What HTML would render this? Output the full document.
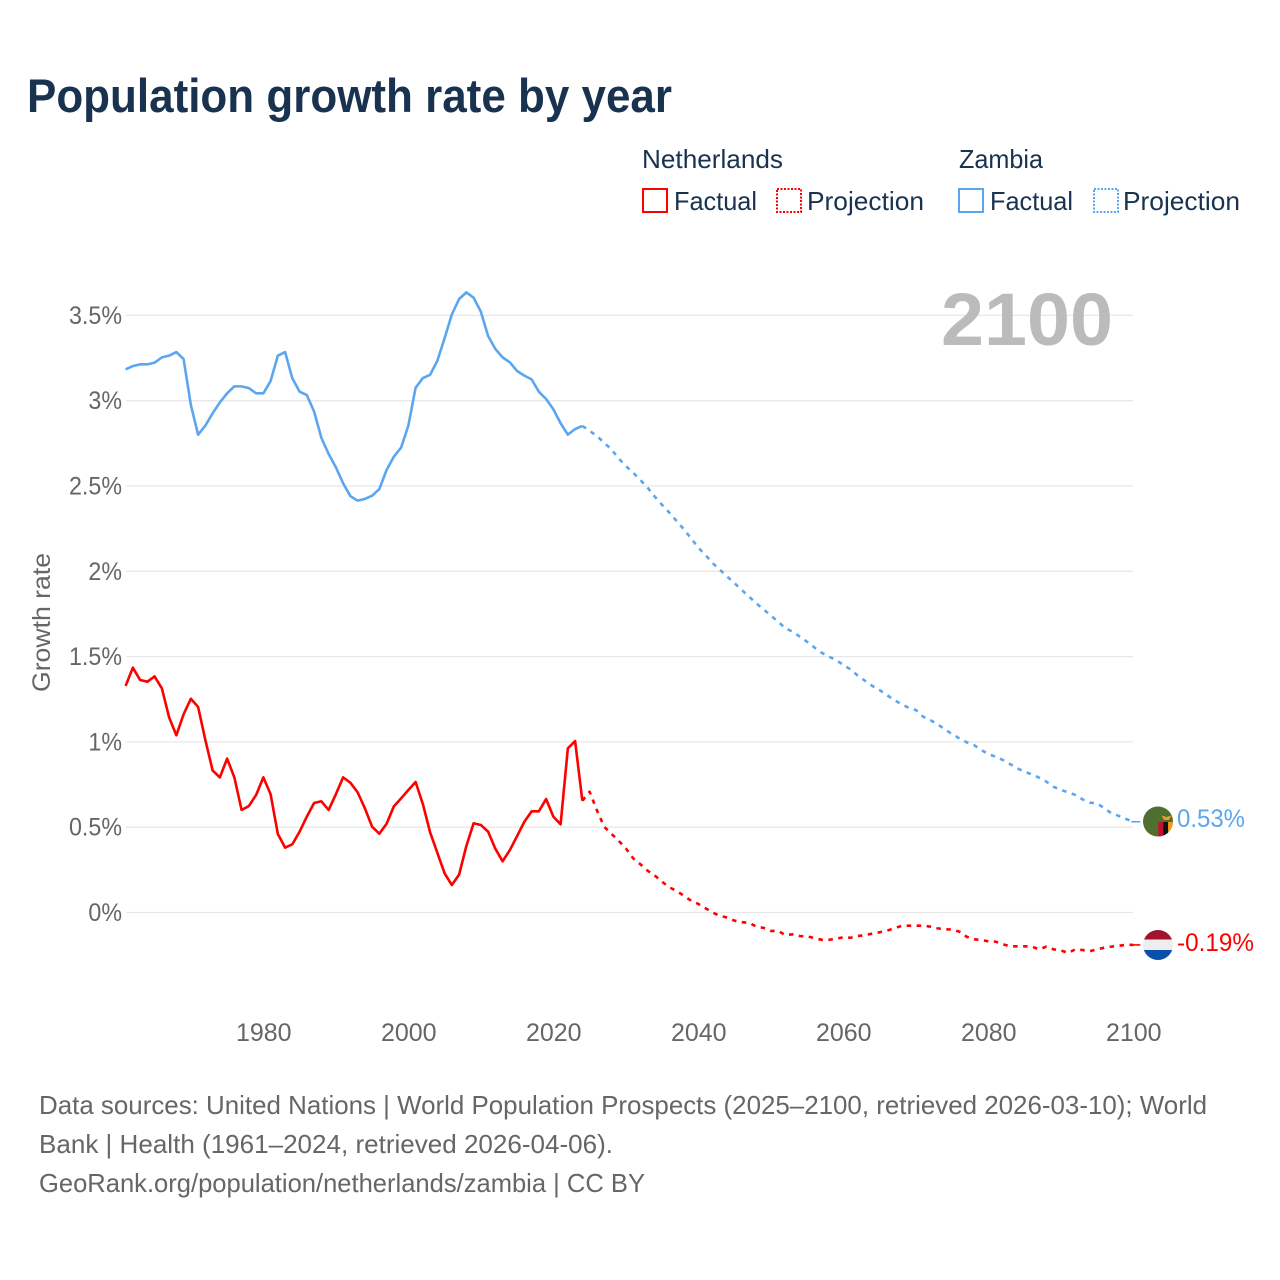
<!DOCTYPE html>
<html lang="en">
<head>
<meta charset="utf-8">
<title>Population growth rate by year</title>
<style>
html,body{margin:0;padding:0;background:#fff;}
svg{display:block;font-family:"Liberation Sans",sans-serif;}
</style>
</head>
<body>
<svg id="chart" width="1280" height="1280" viewBox="0 0 1280 1280" xmlns="http://www.w3.org/2000/svg">
  <rect width="1280" height="1280" fill="#ffffff"/>
  <text x="27" y="112" font-size="47" font-weight="700" fill="#18324f" textLength="645" lengthAdjust="spacingAndGlyphs">Population growth rate by year</text>

  <g font-size="26" fill="#18324f">
    <text x="642" y="168" textLength="141" lengthAdjust="spacingAndGlyphs">Netherlands</text>
    <text x="959" y="168" textLength="84" lengthAdjust="spacingAndGlyphs">Zambia</text>
    <rect x="643" y="189" width="24" height="23" fill="none" stroke="#ff0000" stroke-width="2"/>
    <text x="674" y="210" textLength="83" lengthAdjust="spacingAndGlyphs">Factual</text>
    <rect x="777" y="189" width="24" height="23" fill="none" stroke="#ff0000" stroke-width="2" stroke-dasharray="2 1.5"/>
    <text x="807" y="210" textLength="117" lengthAdjust="spacingAndGlyphs">Projection</text>
    <rect x="959" y="189" width="24" height="23" fill="none" stroke="#5ba6ee" stroke-width="2"/>
    <text x="990" y="210" textLength="83" lengthAdjust="spacingAndGlyphs">Factual</text>
    <rect x="1094" y="189" width="24" height="23" fill="none" stroke="#5ba6ee" stroke-width="2" stroke-dasharray="2 1.5"/>
    <text x="1123" y="210" textLength="117" lengthAdjust="spacingAndGlyphs">Projection</text>
  </g>

  <g id="grid"></g>
  <g id="yticks" font-size="25" fill="#666666" text-anchor="end"></g>
  <g id="xticks" font-size="25" fill="#666666" text-anchor="middle"></g>

  <text transform="translate(50,692) rotate(-90)" font-size="25" fill="#666666" textLength="139" lengthAdjust="spacingAndGlyphs">Growth rate</text>
  <text x="941" y="345" font-size="74" font-weight="700" fill="#bbbbbb" textLength="172" lengthAdjust="spacingAndGlyphs">2100</text>

  <g id="series"></g>

  <g>
    <clipPath id="clip-zm"><circle cx="1158" cy="821.5" r="15"/></clipPath>
    <g clip-path="url(#clip-zm)">
      <rect x="1143" y="806" width="30" height="31" fill="#4f6f30"/>
      <rect x="1158.3" y="822" width="4.9" height="15" fill="#c8102e"/>
      <rect x="1163.2" y="822" width="4.9" height="15" fill="#111111"/>
      <rect x="1168.1" y="822" width="4.9" height="15" fill="#f39a1f"/>
      <path d="M1161.5 815.5 L1166.5 817 L1171.5 815.5 L1169 820 L1164 820 Z" fill="#f39a1f"/>
    </g>
  </g>
  <g>
    <clipPath id="clip-nl"><circle cx="1158" cy="945" r="15"/></clipPath>
    <g clip-path="url(#clip-nl)">
      <rect x="1143" y="930" width="30" height="9.5" fill="#a2122a"/>
      <rect x="1143" y="939.5" width="30" height="10.5" fill="#eeeeee"/>
      <rect x="1143" y="950" width="30" height="10" fill="#0a50aa"/>
    </g>
  </g>

  <text x="1177" y="827" font-size="25" fill="#5ba6ee" textLength="68" lengthAdjust="spacingAndGlyphs">0.53%</text>
  <text x="1177" y="951" font-size="25" fill="#ff0000" textLength="77" lengthAdjust="spacingAndGlyphs">-0.19%</text>

  <g font-size="26" fill="#666666">
    <text x="39" y="1114" textLength="1168" lengthAdjust="spacingAndGlyphs">Data sources: United Nations | World Population Prospects (2025–2100, retrieved 2026-03-10); World</text>
    <text x="39" y="1153" textLength="574" lengthAdjust="spacingAndGlyphs">Bank | Health (1961–2024, retrieved 2026-04-06).</text>
    <text x="39" y="1192" textLength="606" lengthAdjust="spacingAndGlyphs">GeoRank.org/population/netherlands/zambia | CC BY</text>
  </g>
</svg>

<script>
const factualStartYear = 1961;
const projectionStartYear = 2024;

const netherlandsFactual = [
  1.328,1.435,1.363,1.353,1.384,1.314,1.144,1.039,1.162,1.253,
  1.205,1.011,0.833,0.792,0.902,0.792,0.601,0.624,0.689,0.792,
  0.693,0.460,0.380,0.400,0.474,0.562,0.642,0.652,0.601,0.693,
  0.792,0.761,0.705,0.611,0.503,0.462,0.520,0.622,0.669,0.718,
  0.765,0.636,0.470,0.350,0.230,0.161,0.222,0.390,0.523,0.513,
  0.474,0.374,0.300,0.366,0.448,0.532,0.593,0.593,0.665,0.562,
  0.517,0.962,1.005,0.655
];
const netherlandsProjection = [
  0.655,0.708,0.600,0.503,0.462,0.421,0.376,0.318,0.283,0.245,
  0.216,0.180,0.148,0.126,0.098,0.069,0.050,0.025,-0.001,-0.020,
  -0.030,-0.048,-0.057,-0.060,-0.083,-0.090,-0.108,-0.108,-0.132,-0.128,
  -0.138,-0.140,-0.150,-0.160,-0.160,-0.154,-0.145,-0.148,-0.138,-0.132,
  -0.124,-0.116,-0.107,-0.093,-0.079,-0.077,-0.077,-0.077,-0.083,-0.093,
  -0.098,-0.100,-0.112,-0.142,-0.157,-0.161,-0.169,-0.171,-0.186,-0.198,
  -0.198,-0.198,-0.200,-0.216,-0.200,-0.216,-0.222,-0.237,-0.216,-0.220,
  -0.227,-0.216,-0.206,-0.200,-0.195,-0.189,-0.190
];
const zambiaFactual = [
  3.184,3.203,3.213,3.213,3.223,3.254,3.264,3.285,3.244,2.975,
  2.801,2.854,2.926,2.990,3.043,3.084,3.084,3.074,3.043,3.043,
  3.115,3.264,3.285,3.131,3.053,3.033,2.936,2.783,2.688,2.610,
  2.516,2.441,2.414,2.424,2.443,2.482,2.594,2.672,2.725,2.854,
  3.076,3.133,3.152,3.234,3.366,3.506,3.596,3.635,3.604,3.522,
  3.379,3.303,3.254,3.225,3.174,3.147,3.125,3.053,3.010,2.950,
  2.868,2.801,2.834,2.852
];
const zambiaProjection = [
  2.852,2.824,2.793,2.754,2.715,2.662,2.617,2.578,2.535,2.490,
  2.437,2.389,2.344,2.295,2.246,2.193,2.138,2.095,2.047,2.008,
  1.968,1.930,1.890,1.851,1.812,1.777,1.740,1.705,1.666,1.646,
  1.617,1.587,1.554,1.523,1.500,1.480,1.451,1.425,1.388,1.358,
  1.328,1.304,1.275,1.246,1.222,1.200,1.187,1.148,1.128,1.103,
  1.074,1.046,1.021,0.998,0.982,0.953,0.929,0.913,0.894,0.870,
  0.845,0.825,0.810,0.790,0.767,0.737,0.718,0.705,0.689,0.663,
  0.644,0.640,0.611,0.581,0.566,0.548,0.532
];
const yTickValues = [0,0.5,1,1.5,2,2.5,3,3.5];
const yTickLabels = ["0%","0.5%","1%","1.5%","2%","2.5%","3%","3.5%"];
const xTickYears = [1980,2000,2020,2040,2060,2080,2100];

const NS = "http://www.w3.org/2000/svg";
const RED = "#ff0000";
const BLUE = "#5ba6ee";
function xScale(year){ return 125.6 + (year - 1961) * 7.25; }
function yScale(value){ return 912.5 - 170.6 * value; }
const gridLayer = document.getElementById("grid");
const yTickLayer = document.getElementById("yticks");
const xTickLayer = document.getElementById("xticks");
const seriesLayer = document.getElementById("series");

yTickValues.forEach(function(v, i){
  const line = document.createElementNS(NS, "line");
  line.setAttribute("x1", xScale(1961) + 0.4);
  line.setAttribute("x2", xScale(2100) - 0.4);
  line.setAttribute("y1", yScale(v));
  line.setAttribute("y2", yScale(v));
  line.setAttribute("stroke", "#e8e8e8");
  line.setAttribute("stroke-width", "1.3");
  
  
  gridLayer.appendChild(line);

  const label = document.createElementNS(NS, "text");
  label.setAttribute("x", 122);
  label.setAttribute("y", yScale(v) + 8.5);
  label.textContent = yTickLabels[i];
  
  
  yTickLayer.appendChild(label);
  label.setAttribute("textLength", (label.getComputedTextLength() * 0.93).toFixed(1));
  label.setAttribute("lengthAdjust", "spacingAndGlyphs");
});

xTickYears.forEach(function(year){
  const label = document.createElementNS(NS, "text");
  label.setAttribute("x", xScale(year) + 0.4);
  label.setAttribute("y", 1041);
  label.textContent = String(year);
  
  
  xTickLayer.appendChild(label);
});

function linePath(values, startYear){
  return values.map(function(v, i){
    return (i ? "L" : "M") + xScale(startYear + i).toFixed(2) + " " + yScale(v).toFixed(2);
  }).join(" ");
}
function addLine(values, startYear, color, dashed, name){
  const path = document.createElementNS(NS, "path");
  path.setAttribute("d", linePath(values, startYear));
  path.setAttribute("fill", "none");
  path.setAttribute("stroke", color);
  path.setAttribute("stroke-width", "2.6");
  path.setAttribute("stroke-linejoin", "round");
  if (dashed) path.setAttribute("stroke-dasharray", "4.5 5.5");
  
  
  seriesLayer.appendChild(path);
}
function addConnector(values, color, name){
  const last = values[values.length - 1];
  const line = document.createElementNS(NS, "line");
  line.setAttribute("x1", xScale(2100) - 2);
  line.setAttribute("x2", xScale(2100) + 7);
  line.setAttribute("y1", yScale(last));
  line.setAttribute("y2", yScale(last));
  line.setAttribute("stroke", color);
  line.setAttribute("stroke-width", "1.6");
  
  
  seriesLayer.appendChild(line);
}
addLine(zambiaFactual, factualStartYear, BLUE, false, "zambia-factual-line");
addLine(zambiaProjection, projectionStartYear, BLUE, true, "zambia-projection-line");
addLine(netherlandsFactual, factualStartYear, RED, false, "netherlands-factual-line");
addLine(netherlandsProjection, projectionStartYear, RED, true, "netherlands-projection-line");
addConnector(zambiaProjection, BLUE, "zambia-end-connector");
addConnector(netherlandsProjection, RED, "netherlands-end-connector");
</script>
</body>
</html>
